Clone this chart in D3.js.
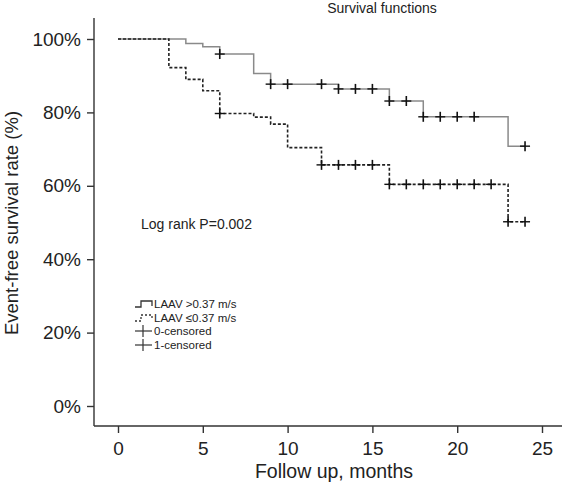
<!DOCTYPE html>
<html>
<head>
<meta charset="utf-8">
<script src="https://cdn.jsdelivr.net/npm/d3@7"></script>
<style>
  html, body { margin: 0; padding: 0; background: #fff; }
  svg { display: block; font-family: "Liberation Sans", Arial, Helvetica, sans-serif; }
</style>
</head>
<body>
<svg id="chart" width="566" height="490"></svg>
<script>
// ---- data ----
const xTicks = [0, 5, 10, 15, 20, 25];
const yTicks = [0, 0.2, 0.4, 0.6, 0.8, 1.0];

// LAAV >0.37 m/s (solid)
const highTimes = [0, 4, 5, 6, 8, 9, 13, 16, 18, 23, 24];
const highSurv  = [1.0, 0.988, 0.979, 0.959, 0.906, 0.877, 0.864, 0.831, 0.788, 0.708, 0.708];
const highCensor = [6, 9, 10, 12, 13, 14, 15, 16, 17, 18, 19, 20, 21, 24];

// LAAV <=0.37 m/s (dashed)
const lowTimes = [0, 3, 4, 5, 6, 8, 9, 10, 12, 16, 23, 24];
const lowSurv  = [1.0, 0.922, 0.890, 0.859, 0.797, 0.787, 0.768, 0.704, 0.657, 0.604, 0.502, 0.502];
const lowCensor = [6, 12, 13, 14, 15, 16, 17, 18, 19, 20, 21, 22, 23, 24];

const legendLabels = ["LAAV >0.37 m/s", "LAAV \u22640.37 m/s", "0-censored", "1-censored"];
const titleText = "Survival functions";
const annotation = "Log rank P=0.002";

// ---- layout ----
const svg = d3.select("#chart");
const x = d3.scaleLinear().domain([0, 25]).range([118, 542]);
const y = d3.scaleLinear().domain([0, 1]).range([406, 39]);
const axisColor = "#333";

// axes lines
svg.append("line").attr("x1", 94).attr("x2", 94).attr("y1", 18).attr("y2", 426)
  .attr("stroke", axisColor).attr("stroke-width", 1.4);
svg.append("line").attr("x1", 94).attr("x2", 562).attr("y1", 426).attr("y2", 426)
  .attr("stroke", axisColor).attr("stroke-width", 1.4);

// y axis
const yAxis = d3.axisLeft(y).tickValues(yTicks).tickSize(7).tickPadding(6)
  .tickFormat(d => d3.format(".0%")(d));
const gy = svg.append("g").attr("transform", "translate(94,0)").call(yAxis);
gy.select(".domain").remove();
gy.selectAll(".tick line").attr("stroke", axisColor).attr("stroke-width", 1.4);
gy.selectAll(".tick text").attr("font-size", 19).attr("fill", "#222")
  .attr("font-family", "Liberation Sans, Arial, sans-serif");

// x axis
const xAxis = d3.axisBottom(x).tickValues(xTicks).tickSize(7).tickPadding(9);
const gx = svg.append("g").attr("transform", "translate(0,426)").call(xAxis);
gx.select(".domain").remove();
gx.selectAll(".tick line").attr("stroke", axisColor).attr("stroke-width", 1.4);
gx.selectAll(".tick text").attr("font-size", 19).attr("fill", "#222")
  .attr("font-family", "Liberation Sans, Arial, sans-serif");

// axis titles
svg.append("text").attr("x", 334).attr("y", 478).attr("text-anchor", "middle")
  .attr("font-size", 19.5).attr("fill", "#222").text("Follow up, months");
svg.append("text").attr("transform", "translate(18,223) rotate(-90)")
  .attr("text-anchor", "middle").attr("font-size", 18.5).attr("fill", "#222")
  .text("Event-free survival rate (%)");

// title
svg.append("text").attr("x", 382).attr("y", 13).attr("text-anchor", "middle")
  .attr("font-size", 14).attr("fill", "#222").text(titleText);

// annotation
svg.append("text").attr("x", 141).attr("y", 229).attr("font-size", 14)
  .attr("fill", "#222").text(annotation);

// curves
const line = d3.line().x(d => x(d[0])).y(d => y(d[1])).curve(d3.curveStepAfter);
const highData = highTimes.map((t, i) => [t, highSurv[i]]);
const lowData = lowTimes.map((t, i) => [t, lowSurv[i]]);

function survAt(times, surv, t) {
  let s = surv[0];
  for (let i = 0; i < times.length; i++) if (times[i] <= t) s = surv[i];
  return s;
}

svg.append("path").attr("d", line(highData)).attr("fill", "none")
  .attr("stroke", "#8a8a8a").attr("stroke-width", 1.5);
svg.append("path").attr("d", line(lowData)).attr("fill", "none")
  .attr("stroke", "#222").attr("stroke-width", 1.6).attr("stroke-dasharray", "3,2");

function drawCensor(times, surv, cens) {
  const g = svg.append("g");
  cens.forEach(t => {
    const cx = x(t), cy = y(survAt(times, surv, t));
    g.append("line").attr("x1", cx - 5).attr("x2", cx + 5).attr("y1", cy).attr("y2", cy)
      .attr("stroke", "#111").attr("stroke-width", 1.4);
    g.append("line").attr("x1", cx).attr("x2", cx).attr("y1", cy - 5).attr("y2", cy + 5)
      .attr("stroke", "#111").attr("stroke-width", 1.6);
  });
}
drawCensor(highTimes, highSurv, highCensor);
drawCensor(lowTimes, lowSurv, lowCensor);

// legend
const lg = svg.append("g");
const lx = 135, rowY = [304, 318, 331, 345];
// row 1: solid step symbol
lg.append("path").attr("d", `M${lx},${rowY[0]+3}H${lx+6}V${rowY[0]-3}H${lx+17}V${rowY[0]+2}`)
  .attr("fill", "none").attr("stroke", "#333").attr("stroke-width", 1.3);
// row 2: dotted step symbol
lg.append("path").attr("d", `M${lx},${rowY[1]+3}H${lx+6}V${rowY[1]-3}H${lx+17}V${rowY[1]+2}`)
  .attr("fill", "none").attr("stroke", "#333").attr("stroke-width", 1.3)
  .attr("stroke-dasharray", "2,2");
// rows 3-4: censor symbols
[rowY[2], rowY[3]].forEach(ry => {
  lg.append("line").attr("x1", lx).attr("x2", lx + 17).attr("y1", ry).attr("y2", ry)
    .attr("stroke", "#333").attr("stroke-width", 1.2);
  lg.append("line").attr("x1", lx + 8).attr("x2", lx + 8).attr("y1", ry - 6).attr("y2", ry + 6)
    .attr("stroke", "#333").attr("stroke-width", 1.2);
});
legendLabels.forEach((lab, i) => {
  lg.append("text").attr("x", lx + 19).attr("y", rowY[i] + 4).attr("font-size", 11.5)
    .attr("fill", "#222").text(lab);
});
</script>
</body>
</html>
